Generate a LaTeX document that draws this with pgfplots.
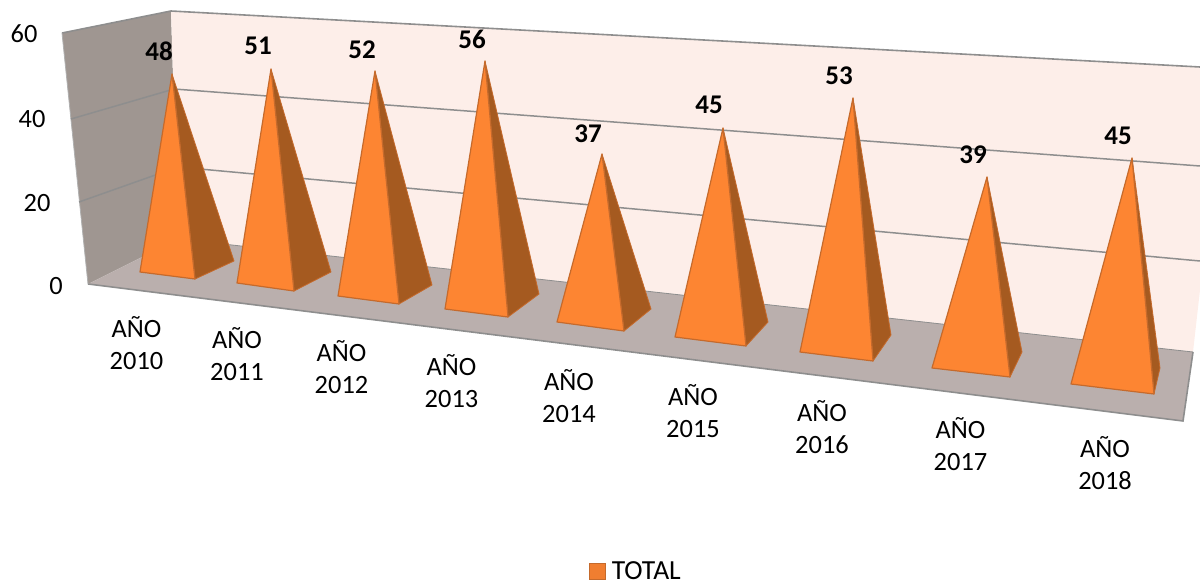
\documentclass[border=0pt]{standalone}
\usepackage{fontspec}
\setmainfont{Carlito}
\usepackage{pgfplots}
\pgfplotsset{compat=1.18}
\definecolor{wallL}{HTML}{9F9691}
\definecolor{wallB}{HTML}{FDEEE9}
\definecolor{floorC}{HTML}{BAAFAD}
\definecolor{edgeC}{HTML}{8E8E8E}
\definecolor{front}{HTML}{FD8532}
\definecolor{side}{HTML}{A55A20}
\definecolor{pedge}{HTML}{C56A2C}
\newcommand{\pyr}[8]{%
  \addplot[forget plot,fill=side,draw=pedge,line width=0.8pt,line join=round] coordinates {(#1,#2) (#5,#6) (#7,#8)} --cycle;
  \addplot[forget plot,fill=front,draw=pedge,line width=1.2pt,line join=round] coordinates {(#1,#2) (#3,#4) (#5,#6)} --cycle;
}
\tikzset{lab/.style={font=\fontsize{26.4}{32}\selectfont,text=black,inner sep=0pt,align=center},
         val/.style={font=\fontsize{27}{32}\selectfont\bfseries,text=black,inner sep=0pt}}
\begin{document}
\begin{tikzpicture}
\useasboundingbox (0,0) rectangle (1200pt,583pt);
\begin{axis}[
  scale only axis, width=1200pt, height=583pt,
  xmin=0, xmax=1200, ymin=0, ymax=583, y dir=reverse,
  axis lines=none, no markers,
  legend style={at={(axis cs:636,571)},anchor=center,draw=none,fill=none,
    inner sep=0pt,outer sep=0pt,
    /tikz/every even column/.style={column sep=0pt}},
  legend cell align=left,
]
% walls and floor
\addplot[forget plot,fill=wallL,draw=none] coordinates {(62,33) (171,11) (178,239) (88,284)} --cycle;
\addplot[forget plot,fill=wallB,draw=none] coordinates {(171,11) (1200,67) (1200,290) (1193,352) (178,239)} --cycle;
\addplot[forget plot,fill=floorC,draw=none] coordinates {(88,284) (178,239) (1193,352) (1183,421)} --cycle;
% edges
\addplot[forget plot,edgeC,line width=1.6pt] coordinates {(62,33) (171,11) (1200,67)};
\addplot[forget plot,edgeC,line width=1.6pt] coordinates {(88,284) (1183,421) (1193,352)};
\addplot[forget plot,edgeC!70,line width=0.8pt] coordinates {(62,33) (88,284)};
\addplot[forget plot,edgeC,line width=0.8pt] coordinates {(178,239) (1193,352)};
% gridlines
\addplot[forget plot,edgeC,line width=1.5pt] coordinates {(71,119) (174,89) (1200,166)};
\addplot[forget plot,edgeC,line width=1.5pt] coordinates {(79,202) (178,167) (1200,261)};
% pyramids: apex, front left, front right, back right
\pyr{172}{74}{140}{272}{195}{279}{234}{261}
\pyr{271}{69}{237}{283}{294}{291}{331}{272}
\pyr{375}{71}{338}{296}{399}{304}{432}{285}
\pyr{485}{61}{445}{309}{508}{317}{539}{294}
\pyr{602}{154}{557}{322}{624}{331}{651}{309}
\pyr{723}{128}{675}{337}{746}{346}{768}{322}
\pyr{853}{98}{800}{352}{873}{361}{891}{335}
\pyr{987}{177}{932}{368}{1010}{377}{1022}{352}
\pyr{1132}{158}{1071}{384}{1154}{394}{1160}{368}
% legend
\addlegendimage{legend image code/.code={
  \fill[draw=pedge,fill=front!95!black,line width=0.8pt] (0pt,-8pt) rectangle (16pt,8pt);
  \path (20pt,0pt);}}
\addlegendentry{\fontsize{27.6}{30}\selectfont TOTAL}
% axis numbers
\node[lab] at (axis cs:24,34) {60};
\node[lab] at (axis cs:32,119) {40};
\node[lab] at (axis cs:37,203) {20};
\node[lab] at (axis cs:56,286) {0};
% data labels
\node[val] at (axis cs:159,51) {48};
\node[val] at (axis cs:258,46) {51};
\node[val] at (axis cs:362,50) {52};
\node[val] at (axis cs:472,39) {56};
\node[val] at (axis cs:588,134) {37};
\node[val] at (axis cs:709,105) {45};
\node[val] at (axis cs:839,76) {53};
\node[val] at (axis cs:973,155) {39};
\node[val] at (axis cs:1118,136) {45};
% category labels
\node[lab] at (axis cs:136.5,343) {AÑO\\2010};
\node[lab] at (axis cs:237,354) {AÑO\\2011};
\node[lab] at (axis cs:341.5,367) {AÑO\\2012};
\node[lab] at (axis cs:451.5,381) {AÑO\\2013};
\node[lab] at (axis cs:569,396) {AÑO\\2014};
\node[lab] at (axis cs:693,411) {AÑO\\2015};
\node[lab] at (axis cs:822,427) {AÑO\\2016};
\node[lab] at (axis cs:960.5,444) {AÑO\\2017};
\node[lab] at (axis cs:1105,463) {AÑO\\2018};
\end{axis}
\end{tikzpicture}
\end{document}
